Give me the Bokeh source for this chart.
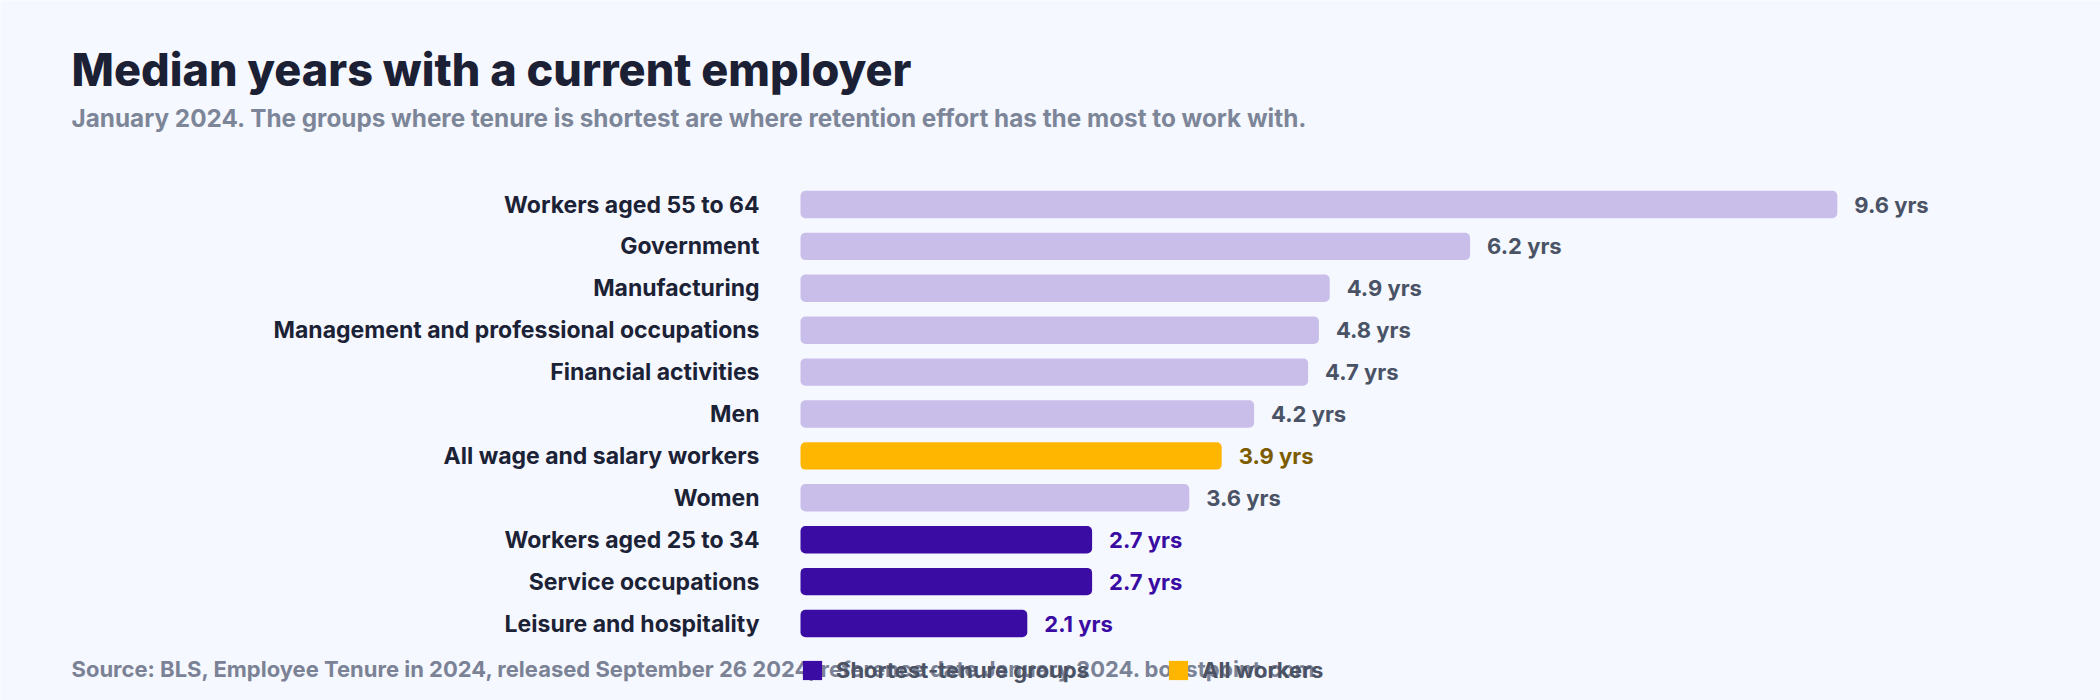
from bokeh.plotting import figure
from bokeh.models import (ColumnDataSource, Range1d, Label, LabelSet,
                          Legend, LegendItem, CDSView, GroupFilter)
from bokeh.core.properties import value
from bokeh.embed import file_html
from bokeh.resources import INLINE

# ---- data ----
categories = ["Workers aged 55 to 64", "Government", "Manufacturing",
              "Management and professional occupations", "Financial activities", "Men",
              "All wage and salary workers", "Women", "Workers aged 25 to 34",
              "Service occupations", "Leisure and hospitality"]
values = [9.6, 6.2, 4.9, 4.8, 4.7, 4.2, 3.9, 3.6, 2.7, 2.7, 2.1]
groups = ["other", "other", "other", "other", "other", "other", "all", "other",
          "short", "short", "short"]
value_labels = [f"{v} yrs" for v in values]

title_text = "Median years with a current employer"
subtitle_text = ("January 2024. The groups where tenure is shortest are where retention "
                 "effort has the most to work with.")
source_text = ("Source: BLS, Employee Tenure in 2024, released September 26 2024, "
               "reference date January 2024. boostpoint.com")
legend_names = {"short": "Shortest-tenure groups", "all": "All workers"}

# ---- styles / layout ----
BG = "#f5f8fe"
BAR_COL = {"other": "#c9bde9", "all": "#ffb600", "short": "#3a0ca3"}
TXT_COL = {"other": "#4a5366", "all": "#7d5c00", "short": "#3a0ca3"}
FONT = "Inter"
HEAVY_FONT = "'Inter ExtraBold', Inter"

W, H = 2100, 700
X0 = 800.0          # pixel where value 0 sits
PX_PER_UNIT = 108.0
ROW0 = 204.0        # pixel centre of first row
ROW_H = 41.9        # pixel pitch of rows

rows = list(range(len(categories)))
src = ColumnDataSource(dict(
    row=rows, cat=categories, val=values, grp=groups, lab=value_labels,
    zero=[0] * len(values), tcol=[TXT_COL[g] for g in groups]))

p = figure(width=W, height=H, output_backend="svg", toolbar_location=None,
           x_axis_type=None, y_axis_type=None,
           x_range=Range1d(-X0 / PX_PER_UNIT, (W - X0) / PX_PER_UNIT),
           y_range=Range1d((H - ROW0) / ROW_H, -ROW0 / ROW_H),
           min_border=0, min_border_left=0, min_border_right=0,
           min_border_top=0, min_border_bottom=0)
p.background_fill_color = BG
p.border_fill_color = BG
p.outline_line_color = None
p.grid.visible = False

renderers = {}
for g in ["other", "all", "short"]:
    view = CDSView(filter=GroupFilter(column_name="grp", group=g))
    renderers[g] = p.hbar(y="row", right="val", left=0, height=0.655, source=src,
                          view=view, fill_color=BAR_COL[g], line_color=None,
                          border_radius=5)

# category labels
p.add_layout(LabelSet(x="zero", y="row", text="cat", source=src, x_offset=-41,
                      text_align="right", text_baseline="middle",
                      text_color="#1c2236", text_font=value(FONT),
                      text_font_style="bold", text_font_size="23px"))
# value labels
p.add_layout(LabelSet(x="val", y="row", text="lab", source=src, x_offset=17,
                      text_baseline="middle", text_color="tcol",
                      text_font=value(FONT), text_font_style="bold",
                      text_font_size="22px"))

def px_x(px):
    return (px - X0) / PX_PER_UNIT

def px_y(py):
    return (py - ROW0) / ROW_H

def lab(text, x, y, size, color, font=FONT):
    p.add_layout(Label(x=px_x(x), y=px_y(y), text=text,
                       text_font=font, text_font_style="bold", text_font_size=size,
                       text_color=color, text_baseline="middle"))

lab(title_text, 71, 69, "45px", "#1b2034", HEAVY_FONT)
lab(subtitle_text, 71, 117.5, "24.3px", "#7d8699")
lab(source_text, 71, 668, "22px", "#7b8296")

legend = Legend(items=[LegendItem(label=legend_names["short"], renderers=[renderers["short"]]),
                       LegendItem(label=legend_names["all"], renderers=[renderers["all"]])],
                orientation="horizontal", location=(X0, H - 683),
                glyph_width=24, glyph_height=24, label_height=24, label_standoff=12,
                spacing=77, padding=0, margin=0, border_line_color=None,
                background_fill_alpha=0, label_text_font=FONT,
                label_text_font_style="bold", label_text_font_size="22px",
                label_text_color="#4b5264", label_text_baseline="middle")
p.add_layout(legend, "center")

open("out.html", "w").write(file_html(p, INLINE))
